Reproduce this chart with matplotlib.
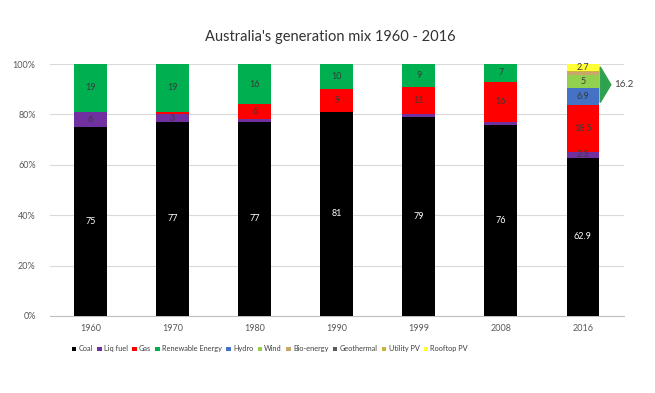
import numpy as np
import matplotlib.pyplot as plt
from matplotlib.patches import Patch, Polygon

plt.rcParams["font.family"] = ["Lato", "DejaVu Sans"]

years = ["1960", "1970", "1980", "1990", "1999", "2008", "2016"]
sources = ["Coal", "Liq fuel", "Gas", "Renewable Energy", "Hydro", "Wind",
           "Bio-energy", "Geothermal", "Utility PV", "Rooftop PV"]
colors = ["#000000", "#7030A0", "#FF0000", "#00B050", "#4472C4", "#92D050",
          "#C9A66B", "#5B5B5B", "#C8B43C", "#FFFF33"]

coal       = [75, 77, 77, 81, 79, 76, 62.9]
liq_fuel   = [6, 3, 1, 0, 1, 1, 2.3]
gas        = [0, 1, 6, 9, 11, 16, 18.5]
renewable  = [19, 19, 16, 10, 9, 7, 0]
hydro      = [0, 0, 0, 0, 0, 0, 6.9]
wind       = [0, 0, 0, 0, 0, 0, 5]
bio_energy = [0, 0, 0, 0, 0, 0, 1.4]
geothermal = [0, 0, 0, 0, 0, 0, 0]
utility_pv = [0, 0, 0, 0, 0, 0, 0.2]
rooftop_pv = [0, 0, 0, 0, 0, 0, 2.7]
series = [coal, liq_fuel, gas, renewable, hydro, wind, bio_energy,
          geothermal, utility_pv, rooftop_pv]
bracket_total = "16.2"

fig = plt.figure(figsize=(6.55, 3.93), dpi=100)
ax = fig.add_axes([0.0756, 0.196, 0.877, 0.641])

x = np.arange(len(years))
bottom = np.zeros(len(years))
for name, vals, col in zip(sources, series, colors):
    vals = np.array(vals, dtype=float)
    ax.bar(x, vals, 0.4, bottom=bottom, color=col, label=name, zorder=3)
    for i, v in enumerate(vals):
        if v >= 2:
            txt = f"{v:g}"
            tc = "white" if name == "Coal" else "#3a3a3a"
            ax.text(x[i], bottom[i] + v / 2, txt, ha="center", va="center",
                    fontsize=6.5, color=tc, zorder=4)
    bottom += vals

ax.set_xlim(-0.5, len(years) - 0.5)
ax.set_ylim(0, 100)
ax.set_yticks(range(0, 101, 20))
ax.set_yticklabels([f"{t}%" for t in range(0, 101, 20)])
ax.set_xticks(x)
ax.set_xticklabels(years)
ax.tick_params(axis="both", length=0, labelsize=6.5, colors="#595959")
ax.tick_params(axis="y", pad=10)
ax.tick_params(axis="x", pad=6)
ax.grid(axis="y", color="#d9d9d9", linewidth=0.8, zorder=0)
for s in ["top", "right", "left"]:
    ax.spines[s].set_visible(False)
ax.spines["bottom"].set_color("#bfbfbf")

# arrow marking the 2016 new renewables group
top = bottom[-1]
low = top - float(bracket_total)
xr = x[-1] + 0.2
mid = (top + low) / 2
tri = Polygon([[xr + 0.01, top - 1], [xr + 0.01, low + 1], [xr + 0.14, mid]],
              closed=True, color="#2EA24E", clip_on=False, zorder=5)
ax.add_patch(tri)
ax.text(xr + 0.18, mid, bracket_total, ha="left", va="center",
        fontsize=7, color="#404040")

fig.text(0.505, 0.905, "Australia's generation mix 1960 - 2016", ha="center",
         va="center", fontsize=10.5, color="#333333")

handles = [Patch(facecolor=c, label=n) for n, c in zip(sources, colors)]
fig.legend(handles=handles, loc="center", bbox_to_anchor=(0.412, 0.112),
           ncol=10, frameon=False, fontsize=5.3, handlelength=0.6,
           handleheight=0.6, handletextpad=0.3, columnspacing=0.6,
           labelcolor="#404040")

fig.savefig("out.png", dpi=100)
